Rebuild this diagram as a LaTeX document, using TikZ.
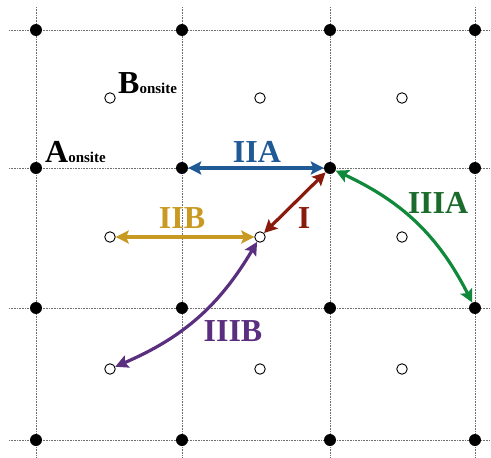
\documentclass[tikz,border=0pt]{standalone}
\usepackage{fontspec}
\setmainfont{Liberation Serif}
\usetikzlibrary{arrows.meta}
\definecolor{cIIA}{HTML}{1F5A96}
\definecolor{cIIB}{HTML}{C99A22}
\definecolor{cI}{HTML}{8A1A0C}
\definecolor{cIIIAline}{HTML}{10893A}
\definecolor{cIIIAtext}{HTML}{1B6B2C}
\definecolor{cIIIB}{HTML}{5B2F7F}
\definecolor{cgrid}{HTML}{707070}
\begin{document}
\begin{tikzpicture}[x=1pt,y=-1pt,
  gridline/.style={cgrid, densely dotted, line width=0.6pt},
  fdot/.style={circle,fill=black,inner sep=0pt,minimum size=12pt},
  odot/.style={circle,draw=black,fill=white,line width=0.9pt,inner sep=0pt,minimum size=10.5pt},
  conn/.style={line width=3.2pt,{Stealth[length=13pt,width=13pt,inset=2.5pt]}-{Stealth[length=13pt,width=13pt,inset=2.5pt]}},
  lab/.style={font=\fontsize{32}{32}\selectfont\bfseries, anchor=base, inner sep=0pt},
  site/.style={anchor=base west, inner sep=0pt, font=\bfseries},
]
\useasboundingbox (0,0) rectangle (491,458);
% grid
\foreach \y in {30,168,308,440} \draw[gridline] (9,\y) -- (491,\y);
\foreach \x in {36,182,330,475} \draw[gridline] (\x,7) -- (\x,458);
% filled dots
\foreach \x/\i in {36/1,182/2,330/3,475/4}
  \foreach \y/\j in {30/1,168/2,308/3,440/4}
    \node[fdot] (a\i\j) at (\x,\y) {};
% open dots
\foreach \x/\i in {110/1,260/2,402/3}
  \foreach \y/\j in {98/1,237/2,369/3}
    \node[odot] (b\i\j) at (\x,\y) {};
% site labels
\node[site] (Alab) at (45,162) {\fontsize{32}{32}\selectfont A\fontsize{15}{15}\selectfont onsite};
\node[site] (Blab) at (118,93) {\fontsize{32}{32}\selectfont B\fontsize{15}{15}\selectfont onsite};
% connectors
\draw[conn, cIIA] (a22) -- (a32);
\draw[conn, cIIB] (b12) -- (b22);
\draw[conn, cI] (b22) -- (a32);
\draw[conn, cIIIAline] (a32) to[bend left=19] (a43);
\draw[conn, cIIIB] (b22) to[bend left=18] (b13);
% labels
\node[lab, text=cIIA] (lIIA) at (257,162) {IIA};
\node[lab, text=cIIB] (lIIB) at (182,228) {IIB};
\node[lab, text=cI] (lI) at (304,228) {I};
\node[lab, text=cIIIAtext] (lIIIA) at (438,213) {IIIA};
\node[lab, text=cIIIB] (lIIIB) at (233,341) {IIIB};
\end{tikzpicture}
\end{document}
